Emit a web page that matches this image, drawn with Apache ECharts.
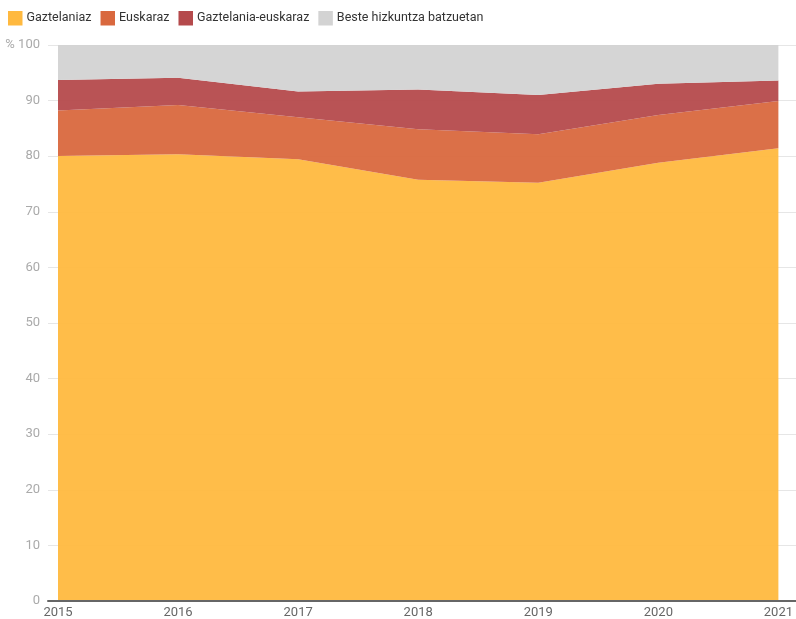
<!DOCTYPE html>
<html><head><meta charset="utf-8">
<script src="https://cdn.jsdelivr.net/npm/echarts@6/dist/echarts.min.js"></script>
<style>html,body{margin:0;padding:0;background:#fff}#c{width:796px;height:619px}</style>
</head><body><div id="c"></div>
<script>
const years = ['2015', '2016', '2017', '2018', '2019', '2020', '2021'];
const gaztelaniaz = [80.0, 80.3, 79.4, 75.7, 75.2, 78.8, 81.4];
const euskaraz = [8.2, 8.9, 7.6, 9.1, 8.7, 8.6, 8.5];
const gazteEusk = [5.5, 4.9, 4.6, 7.2, 7.1, 5.6, 3.7];
const beste = [6.3, 5.9, 8.4, 8.0, 9.0, 7.0, 6.4];
const names = ['Gaztelaniaz', 'Euskaraz', 'Gaztelania-euskaraz', 'Beste hizkuntza batzuetan'];
const colors = ['#FFB93F', '#D9683E', '#B54A4C', '#D3D3D3'];

const seriesVals = [gaztelaniaz, euskaraz, gazteEusk, beste];
const chart = echarts.init(document.getElementById('c'), null, {renderer: 'canvas'});
chart.setOption({
  animation: false,
  color: colors,
  textStyle: {fontFamily: 'Roboto'},
  legend: {
    left: 3, top: 6, itemWidth: 14.5, itemHeight: 14.5, itemGap: 9,
    icon: 'rect',
    textStyle: {fontSize: 12.5, color: '#333', fontFamily: 'Roboto', padding: [0, 0, 0, -1]},
    data: names
  },
  grid: [
    {left: 48, right: 0, top: 45, bottom: 18, containLabel: false},
    {left: 58, right: 13, top: 45, bottom: 18, containLabel: false}
  ],
  xAxis: [
    {
      gridIndex: 0, type: 'value', min: 0, max: 1, z: 5,
      axisLine: {show: true, onZero: false, lineStyle: {color: '#666', width: 2}},
      axisTick: {show: false}, splitLine: {show: false}, axisLabel: {show: false}
    },
    {
      gridIndex: 1, type: 'category', boundaryGap: false, data: years,
      axisLine: {show: false}, axisTick: {show: false}, splitLine: {show: false},
      axisLabel: {color: '#666', fontSize: 13, margin: 6, fontFamily: 'Roboto'}
    }
  ],
  yAxis: [
    {
      gridIndex: 0, type: 'value', min: 0, max: 100, interval: 10,
      axisLine: {show: false}, axisTick: {show: false},
      splitLine: {show: true, lineStyle: {color: '#e6e6e6', width: 1}},
      axisLabel: {color: '#aaa', fontSize: 13, margin: 8, fontFamily: 'Roboto',
        formatter: v => v === 100 ? '% 100' : String(v)}
    },
    {
      gridIndex: 1, type: 'value', min: 0, max: 100, interval: 10,
      axisLine: {show: false}, axisTick: {show: false},
      splitLine: {show: false}, axisLabel: {show: false}
    }
  ],
  series: seriesVals.map((vals, i) => ({
    name: names[i], type: 'line', stack: 'total',
    xAxisIndex: 1, yAxisIndex: 1,
    symbol: 'none', smooth: false,
    lineStyle: {width: 0},
    areaStyle: {color: colors[i], opacity: 0.95},
    data: vals
  }))
});
</script></body></html>
